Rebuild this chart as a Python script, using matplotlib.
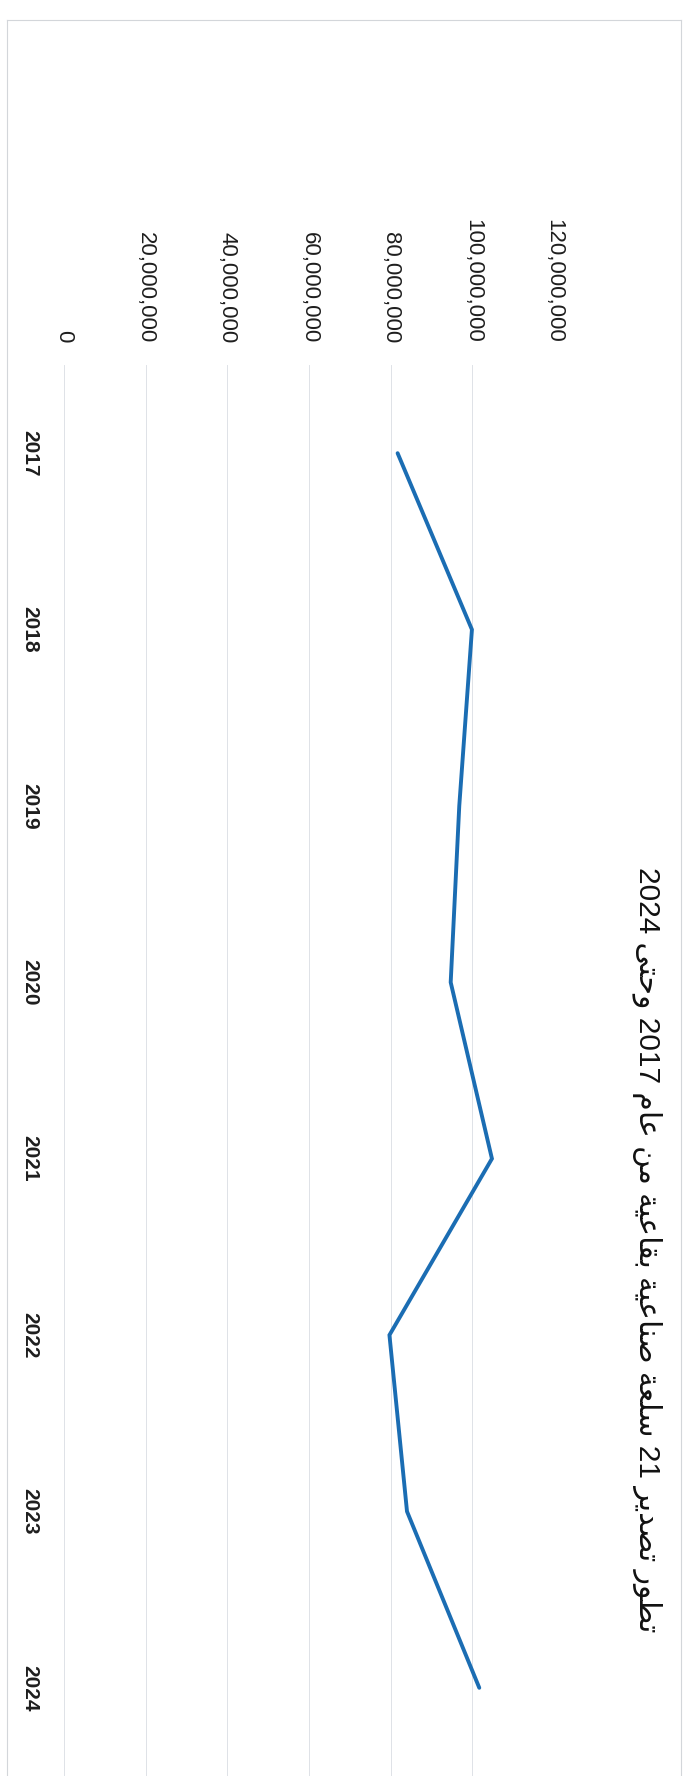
import matplotlib
matplotlib.use("Agg")
import matplotlib.pyplot as plt
from matplotlib.lines import Line2D
from matplotlib.ticker import FuncFormatter

years = ["2017", "2018", "2019", "2020", "2021", "2022", "2023", "2024"]
exports = [81.7e6, 99.9e6, 96.8e6, 94.7e6, 104.8e6, 79.7e6, 84.0e6, 101.7e6]
value_ticks = [0, 20e6, 40e6, 60e6, 80e6, 100e6, 120e6]
title = "تطور تصدير 21 سلعة صناعية بقاعية من عام 2017 وحتى 2024"

# arabic contextual forms: isolated, final, initial, medial
FORMS = {
    'ا': ('\uFE8D', '\uFE8E', None, None),
    'ب': ('\uFE8F', '\uFE90', '\uFE91', '\uFE92'),
    'ة': ('\uFE93', '\uFE94', None, None),
    'ت': ('\uFE95', '\uFE96', '\uFE97', '\uFE98'),
    'ح': ('\uFEA1', '\uFEA2', '\uFEA3', '\uFEA4'),
    'د': ('\uFEA9', '\uFEAA', None, None),
    'ر': ('\uFEAD', '\uFEAE', None, None),
    'س': ('\uFEB1', '\uFEB2', '\uFEB3', '\uFEB4'),
    'ص': ('\uFEB9', '\uFEBA', '\uFEBB', '\uFEBC'),
    'ط': ('\uFEC1', '\uFEC2', '\uFEC3', '\uFEC4'),
    'ع': ('\uFEC9', '\uFECA', '\uFECB', '\uFECC'),
    'ق': ('\uFED5', '\uFED6', '\uFED7', '\uFED8'),
    'ل': ('\uFEDD', '\uFEDE', '\uFEDF', '\uFEE0'),
    'م': ('\uFEE1', '\uFEE2', '\uFEE3', '\uFEE4'),
    'ن': ('\uFEE5', '\uFEE6', '\uFEE7', '\uFEE8'),
    'و': ('\uFEED', '\uFEEE', None, None),
    'ى': ('\uFEEF', '\uFEF0', None, None),
    'ي': ('\uFEF1', '\uFEF2', '\uFEF3', '\uFEF4'),
}


def shape_word(w):
    out = []
    for i, ch in enumerate(w):
        if ch not in FORMS:
            out.append(ch)
            continue
        iso, fin, ini, med = FORMS[ch]
        prev_joins = i > 0 and w[i-1] in FORMS and FORMS[w[i-1]][2] is not None
        next_joins = i < len(w)-1 and w[i+1] in FORMS and ini is not None
        if prev_joins and next_joins:
            out.append(med)
        elif prev_joins:
            out.append(fin)
        elif next_joins:
            out.append(ini)
        else:
            out.append(iso)
    return "".join(out)


def visual(s):
    # no bidi engine in matplotlib: shape letters and put words in display order
    words = s.split(" ")
    res = []
    for w in words:
        if any(c in FORMS for c in w):
            res.append(shape_word(w)[::-1])
        else:
            res.append(w)
    return " ".join(reversed(res))


W, H = 694, 1776
fig = plt.figure(figsize=(W/100, H/100), dpi=100)

# axes in pixel terms: value axis horizontal, years going down
left, right, top, bottom = 64, 554, 365, 0
ax = fig.add_axes([left/W, bottom/H, (right-left)/W, (H-top-bottom)/H])

ypos = list(range(len(years)))
ax.plot(exports, ypos, color="#1b6db3", lw=2.8, solid_capstyle="round", solid_joinstyle="miter")

ax.set_xlim(0, 120e6)
ax.set_ylim(len(years)-0.5, -0.5)
ax.set_xticks(value_ticks)
ax.xaxis.set_major_formatter(FuncFormatter(lambda v, p: f"{int(v):,}"))
ax.xaxis.tick_top()
ax.set_yticks(ypos)
ax.set_yticklabels(years, va="center")
ax.grid(axis="x", color="#dfe2e7", lw=0.7)
for s in ax.spines.values():
    s.set_visible(False)
ax.tick_params(axis="x", length=0, pad=16, labelsize=16, labelrotation=-90, colors="#1e1e1e")
ax.tick_params(axis="y", length=0, pad=18, labelsize=15, labelrotation=-90, colors="#1e1e1e")
for t in ax.get_xticklabels():
    t.set_family("Liberation Sans")
for t in ax.get_yticklabels():
    t.set_family("Liberation Sans")
    t.set_fontweight("bold")

fig.text(647/W, 1 - 1250/H, visual(title), rotation=-90, ha="center", va="center",
         fontsize=21.5, family=["Liberation Sans", "DejaVu Sans"], color="#111111")

# chart frame
fc = "#d3d6da"
fig.add_artist(Line2D([7/W, 7/W], [0, 1 - 20/H], color=fc, lw=0.8))
fig.add_artist(Line2D([681/W, 681/W], [0, 1 - 20/H], color=fc, lw=0.8))
fig.add_artist(Line2D([7/W, 681/W], [1 - 20/H, 1 - 20/H], color=fc, lw=0.8))

fig.savefig("out.png", dpi=100, facecolor="white")
